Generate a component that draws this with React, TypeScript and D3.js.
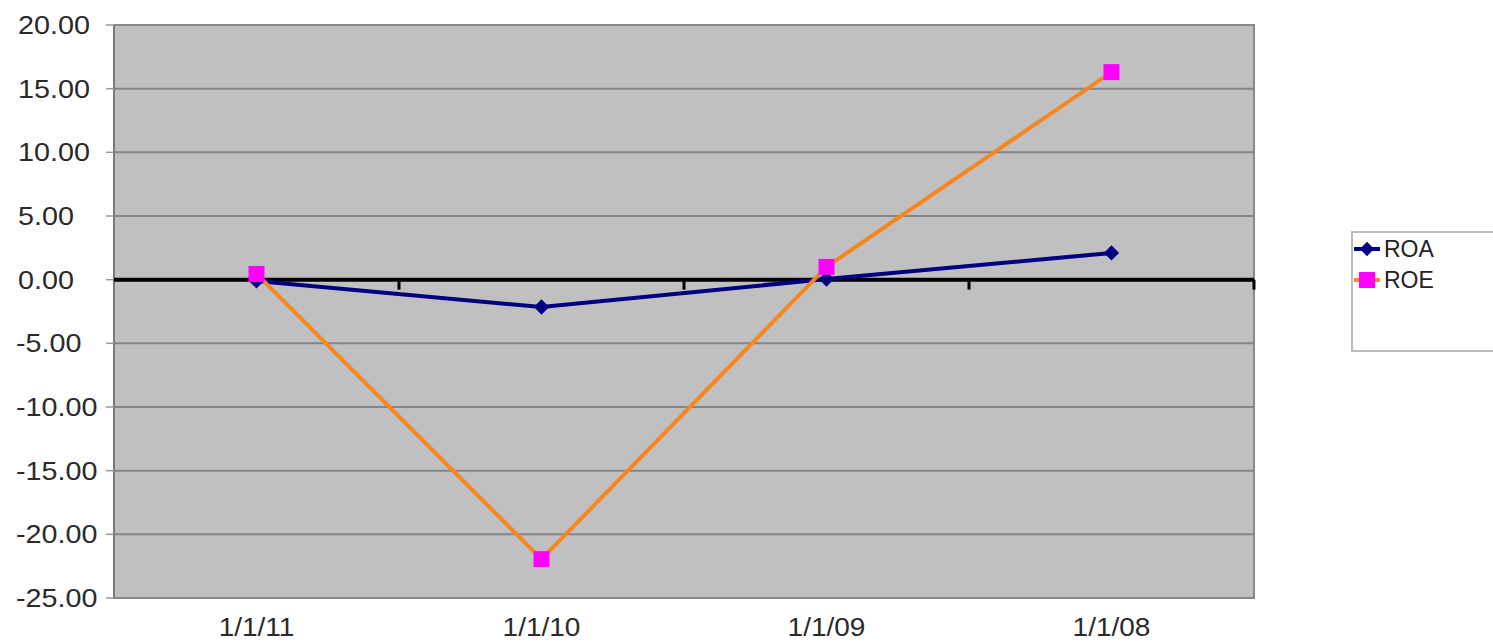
import React, { useEffect, useRef } from 'react';
import * as d3 from 'd3';

const categories = ['1/1/11', '1/1/10', '1/1/09', '1/1/08'];
const roaValues = [-0.1, -2.15, 0.05, 2.1];
const roeValues = [0.45, -21.95, 1.0, 16.3];
const yTicks = [20, 15, 10, 5, 0, -5, -10, -15, -20, -25];

const W = 1493;
const H = 643;

const App = () => {
  const ref = useRef<SVGSVGElement>(null);

  useEffect(() => {
    const svg = d3.select(ref.current);
    svg.selectAll('*').remove();

    const left = 114, right = 1254, top = 25, bottom = 598;
    const x = d3.scaleBand<string>().domain(categories).range([left, right]).padding(0);
    const y = d3.scaleLinear().domain([-25, 20]).range([bottom, top]);
    const cx = (c: string) => (x(c) as number) + x.bandwidth() / 2;
    const fmt = (d: number) => d3.format('.2f')(d).replace('−', '-');

    // plot background
    svg.append('rect')
      .attr('x', left).attr('y', top)
      .attr('width', right - left).attr('height', bottom - top)
      .attr('fill', '#c0c0c0')
      .attr('stroke', '#8a8a8a').attr('stroke-width', 2);

    // grid lines
    svg.append('g').selectAll('line')
      .data(yTicks.filter(d => d !== 0 && d !== 20 && d !== -25))
      .join('line')
      .attr('x1', left).attr('x2', right)
      .attr('y1', d => y(d)).attr('y2', d => y(d))
      .attr('stroke', '#858585').attr('stroke-width', 2);

    // left axis ticks + labels (labels are left aligned in the original)
    const ya = svg.append('g');
    ya.append('line').attr('x1', left).attr('x2', left).attr('y1', top).attr('y2', bottom)
      .attr('stroke', '#7a7a7a').attr('stroke-width', 2);
    ya.selectAll('line.t').data(yTicks).join('line').attr('class', 't')
      .attr('x1', left - 8).attr('x2', left)
      .attr('y1', d => y(d)).attr('y2', d => y(d))
      .attr('stroke', '#999').attr('stroke-width', 1.5);
    ya.selectAll('text').data(yTicks).join('text')
      .attr('transform', d => `translate(${d < 0 ? 16 : 18},${y(d) + 9}) scale(1.15,1)`)
      .attr('text-anchor', 'start')
      .attr('font-family', 'Liberation Sans, Arial, sans-serif')
      .attr('font-size', 25)
      .attr('fill', '#2a2a2a')
      .text(d => fmt(d));

    // zero axis
    const zy = y(0);
    svg.append('line').attr('x1', left).attr('x2', right).attr('y1', zy).attr('y2', zy)
      .attr('stroke', '#000').attr('stroke-width', 4);
    const bounds = categories.map(c => (x(c) as number) + x.bandwidth());
    svg.append('g').selectAll('line').data(bounds).join('line')
      .attr('x1', d => d).attr('x2', d => d)
      .attr('y1', zy).attr('y2', zy + 10)
      .attr('stroke', '#000').attr('stroke-width', 3);

    // x labels
    svg.append('g').selectAll('text').data(categories).join('text')
      .attr('transform', d => `translate(${cx(d)},${bottom + 38}) scale(1.12,1)`)
      .attr('text-anchor', 'middle')
      .attr('font-family', 'Liberation Sans, Arial, sans-serif')
      .attr('font-size', 25)
      .attr('fill', '#2a2a2a')
      .text(d => d);

    const line = d3.line<number>().x((_, i) => cx(categories[i])).y(d => y(d));

    // ROA
    svg.append('path').attr('d', line(roaValues)).attr('fill', 'none')
      .attr('stroke', '#000080').attr('stroke-width', 4);
    // ROE
    svg.append('path').attr('d', line(roeValues)).attr('fill', 'none')
      .attr('stroke', '#f7861e').attr('stroke-width', 4);

    const diamond = d3.symbol().type(d3.symbolDiamond2).size(150);
    svg.append('g').selectAll('path').data(roaValues).join('path')
      .attr('transform', (d, i) => `translate(${cx(categories[i])},${y(d)})`)
      .attr('d', diamond)
      .attr('fill', '#000080');

    svg.append('g').selectAll('rect').data(roeValues).join('rect')
      .attr('x', (d, i) => cx(categories[i]) - 8)
      .attr('y', d => y(d) - 8)
      .attr('width', 16).attr('height', 16)
      .attr('fill', '#ff00ff');

    // legend
    const lg = svg.append('g');
    lg.append('rect').attr('x', 1352).attr('y', 232).attr('width', 160).attr('height', 119)
      .attr('fill', '#fff').attr('stroke', '#bbb').attr('stroke-width', 2);
    const items = [
      { name: 'ROA', color: '#000080', marker: 'diamond' },
      { name: 'ROE', color: '#f7861e', marker: 'square' },
    ];
    items.forEach((it, i) => {
      const ly = 249 + i * 31;
      lg.append('line').attr('x1', 1354).attr('x2', 1380).attr('y1', ly).attr('y2', ly)
        .attr('stroke', it.color).attr('stroke-width', 4);
      if (it.marker === 'diamond') {
        lg.append('path').attr('transform', `translate(1367,${ly})`)
          .attr('d', d3.symbol().type(d3.symbolDiamond2).size(130)).attr('fill', '#000080');
      } else {
        lg.append('rect').attr('x', 1359).attr('y', ly - 8).attr('width', 16).attr('height', 16)
          .attr('fill', '#ff00ff');
      }
      lg.append('text')
        .attr('transform', `translate(1384,${ly + 8})`)
        .attr('font-family', 'Liberation Sans, Arial, sans-serif')
        .attr('font-size', 23)
        .attr('fill', '#222')
        .text(it.name);
    });
  }, []);

  return (
    <svg ref={ref} width={W} height={H}
      style={{ position: 'absolute', left: 0, top: 0, background: '#fff' }} />
  );
};

export default App;
